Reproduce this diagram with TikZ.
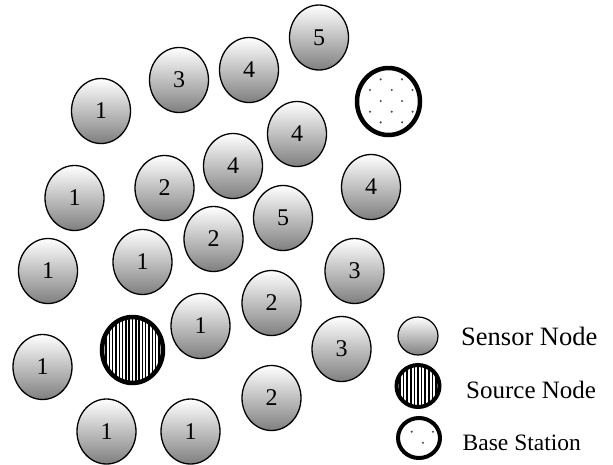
\documentclass[tikz,border=0pt]{standalone}
\usepackage{fontspec}
\setmainfont{Liberation Serif}
\usetikzlibrary{shapes.geometric}
\begin{document}
\begin{tikzpicture}[x=1pt,y=-1pt,
  sensor/.style={ellipse,draw,line width=1.3pt,minimum width=59pt,minimum height=65pt,
    inner sep=0pt,top color=white,middle color=black!16,bottom color=black!50,
    font=\fontsize{24}{24}\selectfont},
  stripes/.style={path picture={
    \foreach \i in {-12,...,12}
      \draw[line width=1.5pt] ([xshift=\i*#1]path picture bounding box.north) --
                              ([xshift=\i*#1]path picture bounding box.south);}},
  srcnode/.style={ellipse,draw,line width=4.5pt,minimum width=61pt,minimum height=66pt,
    inner sep=0pt,fill=white,stripes=3.3pt},
  basenode/.style={ellipse,draw,line width=4.5pt,minimum width=63pt,minimum height=67pt,
    inner sep=0pt,fill=white},
  dotc/.style={fill=black!70},
  legtext/.style={anchor=base west,inner sep=0pt}
]
\useasboundingbox (0,0) rectangle (613,464);

% sensor nodes
\node[sensor] (n1)  at (319,37.5)  {5};
\node[sensor] (n2)  at (179,80)    {3};
\node[sensor] (n3)  at (249,70)    {4};
\node[sensor] (n4)  at (101,111)   {1};
\node[sensor] (n5)  at (297,134)   {4};
\node[sensor] (n6)  at (233,166)   {4};
\node[sensor] (n7)  at (164.5,188) {2};
\node[sensor] (n8)  at (74.5,198)  {1};
\node[sensor] (n9)  at (371,187)   {4};
\node[sensor] (n10) at (283,218)   {5};
\node[sensor] (n11) at (213.5,239) {2};
\node[sensor] (n12) at (142.5,262) {1};
\node[sensor] (n13) at (48,271)    {1};
\node[sensor] (n14) at (354.5,271) {3};
\node[sensor] (n15) at (271.5,303) {2};
\node[sensor] (n16) at (200.5,326) {1};
\node[sensor] (n17) at (42.5,367)  {1};
\node[sensor] (n18) at (341.5,349) {3};
\node[sensor] (n19) at (271.5,398) {2};
\node[sensor] (n20) at (106.5,431.5) {1};
\node[sensor] (n21) at (190.5,431.5) {1};

% source node
\node[srcnode] (src) at (132.5,350) {};

% base station
\node[basenode] (bs) at (388.5,101.5) {};
\foreach \dx/\dy in {-7.8/-22.2,13.5/-22.2,-18.5/-11.5,3.2/-11.5,24/-11.5,
                     -7.8/-0.5,13.5/-0.5,-18.5/10.2,3.2/10.2,24/10.2,
                     -7.8/20.8,13.5/20.8}
  \fill[dotc] ([shift={(\dx,\dy)}]bs.center) circle (1.2pt);

% legend
\node[sensor,minimum width=40pt,minimum height=38pt,line width=1.2pt] (ls) at (418,336) {};
\node[srcnode,minimum width=43pt,minimum height=42pt,line width=4pt,stripes=3.6pt] (lsrc) at (418,386) {};
\node[basenode,minimum width=42pt,minimum height=40pt,line width=4pt] (lbs) at (419,438) {};
\foreach \dx/\dy in {-7.3/-6.3,14/-6.3,4/4.7}
  \fill[dotc] ([shift={(\dx,\dy)}]lbs.center) circle (1.2pt);

\node[legtext,font=\fontsize{26.5}{26.5}\selectfont] (t1) at (461,345) {Sensor Node};
\node[legtext,font=\fontsize{25}{25}\selectfont] (t2) at (466,398) {Source Node};
\node[legtext,font=\fontsize{23.5}{23.5}\selectfont] (t3) at (462.5,450) {Base Station};
\end{tikzpicture}
\end{document}
